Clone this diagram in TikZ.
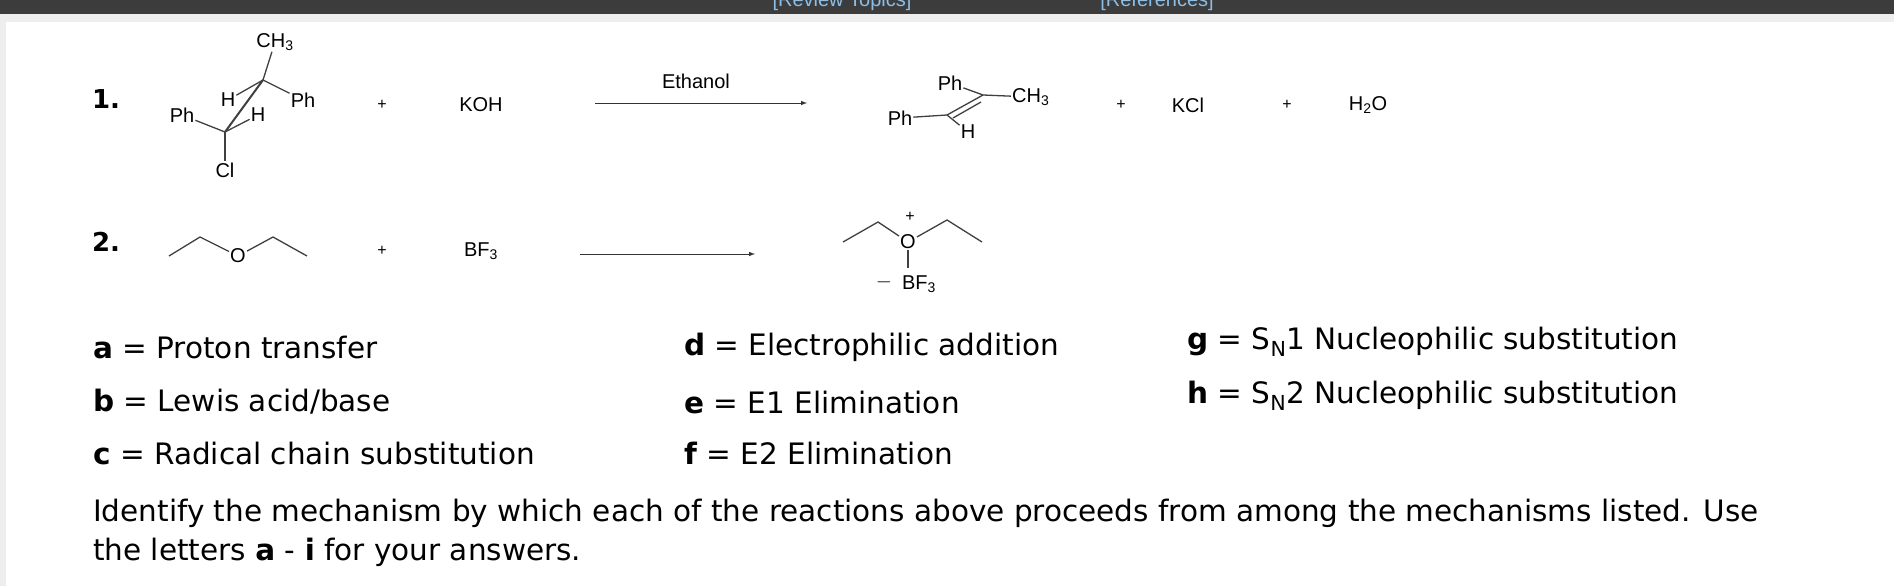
\documentclass[tikz,border=0pt]{standalone}
\usepackage{fontspec}
\setmainfont{DejaVu Sans}
\newfontfamily\chemfont{Liberation Sans}
\usetikzlibrary{positioning}
\tikzset{%
  chem/.style = {font=\chemfont\fontsize{20}{20}\selectfont, inner sep=1pt},
  plus/.style = {font=\chemfont\fontsize{16}{16}\selectfont, inner sep=1pt},
  bond/.style = {line width=1.3pt, draw=black!75},
  rxnarrow/.style = {-latex, line width=1pt, draw=black!80},
  item/.style = {font=\fontsize{29.5}{29.5}\selectfont, anchor=west, inner sep=0pt},
  num/.style = {font=\fontsize{26}{26}\selectfont\bfseries, inner sep=0pt}
}
\newcommand\chsub[1]{\textsubscript{#1}}
\definecolor{pagegrey}{RGB}{238,238,238}
\definecolor{barcol}{RGB}{60,60,60}
\definecolor{linkcol}{RGB}{140,190,230}
\begin{document}
\begin{tikzpicture}[x=1pt,y=-1pt]
   \useasboundingbox (0,0) rectangle (1894,586);
   \fill[pagegrey] (0,0) rectangle (1894,586);
   \fill[white] (6,22) rectangle (1894,586);
   \fill[barcol] (0,0) rectangle (1894,14);
   \begin{scope}
     \clip (0,0) rectangle (1894,14);
     \node[chem, text=linkcol] (revtop) at (842,1) {[Review Topics]};
     \node[chem, text=linkcol] (refs) at (1157,1) {[References]};
   \end{scope}

   % reaction 1
   \node[num] (n1) at (106,99) {1.};
   \node[chem] (ch3a) at (275,42) {CH\chsub{3}};
   \coordinate (c1) at (263,80);
   \coordinate (c2) at (225,132);
   \node[chem] (pha) at (303,100) {Ph};
   \node[chem] (ha) at (228,100) {H};
   \node[chem] (phb) at (182,115) {Ph};
   \node[chem] (hb) at (258,115) {H};
   \node[chem] (cl) at (225,170) {Cl};
   \draw[bond] (ch3a) -- (c1);
   \draw[bond] (c1) -- (pha);
   \draw[bond] (c1) -- (ha);
   \draw[bond, line width=2pt] (c1) -- (c2);
   \draw[bond] (c2) -- (phb);
   \draw[bond] (c2) -- (hb);
   \draw[bond] (c2) -- (cl);
   \node[plus] (p1) at (382,105) {+};
   \node[chem] (koh) at (481,105) {KOH};
   \node[chem] (etoh) at (696,81) {Ethanol};
   \coordinate (a1s) at (595,103);
   \coordinate (a1e) at (807,103);
   \draw[rxnarrow] (a1s) -- (a1e);
   % product 1
   \node[chem] (phc) at (900,118) {Ph};
   \coordinate (c3) at (947,115);
   \coordinate (c4) at (983,95);
   \node[chem] (phd) at (950,83) {Ph};
   \node[chem, anchor=west] (ch3b) at (1011,97) {CH\chsub{3}};
   \node[chem] (hc) at (968,132) {H};
   \draw[bond] (phc) -- (c3);
   \draw[bond] (c3) -- (c4);
   \draw[bond] ([shift={(6,3)}]c3) -- ([shift={(-2,7)}]c4);
   \draw[bond] (phd) -- (c4);
   \draw[bond] (c4) -- (ch3b);
   \draw[bond] (c3) -- (hc);
   \node[plus] (p2) at (1121,105) {+};
   \node[chem] (kcl) at (1188,105) {KCl};
   \node[plus] (p3) at (1287,105) {+};
   \node[chem] (h2o) at (1368,105) {H\chsub{2}O};

   % reaction 2
   \node[num] (n2) at (106,242) {2.};
   \coordinate (e1) at (169,256);
   \coordinate (e2) at (200,237);
   \node[chem] (o1) at (238,256) {O};
   \coordinate (e3) at (273,237);
   \coordinate (e4) at (307,256);
   \draw[bond] (e1) -- (e2) -- (o1) -- (e3) -- (e4);
   \node[plus] (p4) at (382,251) {+};
   \node[chem] (bf3a) at (481,251) {BF\chsub{3}};
   \coordinate (a2s) at (580,254);
   \coordinate (a2e) at (755,254);
   \draw[rxnarrow] (a2s) -- (a2e);
   \coordinate (f1) at (843,242);
   \coordinate (f2) at (878,222);
   \node[chem] (o2) at (908,242) {O};
   \coordinate (f3) at (947,220);
   \coordinate (f4) at (982,242);
   \node[plus] (opl) at (910,217) {+};
   \node[chem] (bf3b) at (919,284) {BF\chsub{3}};
   \node[chem] (minus) at (884,282) {$-$};
   \draw[bond] (f1) -- (f2) -- (o2) -- (f3) -- (f4);
   \draw[bond] (o2) -- (908,268);

   % mechanisms
   \node[item] (ma) at (93,347) {\textbf{a} = Proton transfer};
   \node[item] (mb) at (93,402) {\textbf{b} = Lewis acid/base};
   \node[item] (mc) at (93,453) {\textbf{c} = Radical chain substitution};
   \node[item] (md) at (684,347) {\textbf{d} = Electrophilic addition};
   \node[item] (me) at (684,402) {\textbf{e} = E1 Elimination};
   \node[item] (mf) at (684,453) {\textbf{f} = E2 Elimination};
   \node[item] (mg) at (1187,342) {\textbf{g} = S\textsubscript{N}1 Nucleophilic substitution};
   \node[item] (mh) at (1187,396) {\textbf{h} = S\textsubscript{N}2 Nucleophilic substitution};
   \node[item] (q1) at (93,513) {Identify the mechanism by which each of the reactions above proceeds from among the mechanisms listed. Use};
   \node[item] (q2) at (93,552) {the letters \textbf{a} - \textbf{i} for your answers.};
\end{tikzpicture}
\end{document}
